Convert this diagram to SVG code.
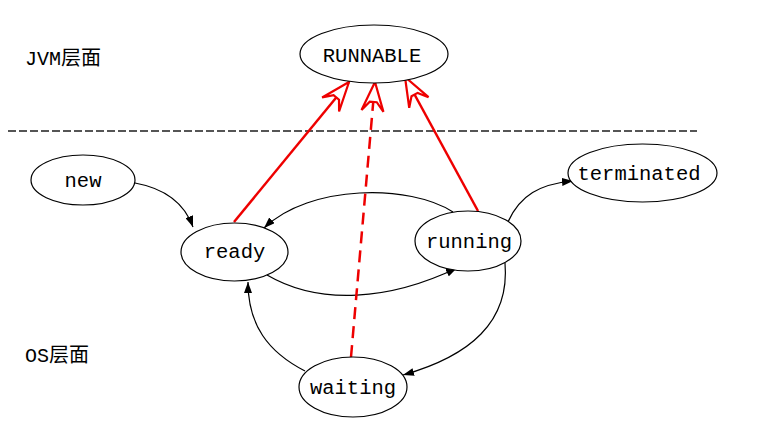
<svg xmlns="http://www.w3.org/2000/svg" width="772" height="432" viewBox="0 0 772 432">
<style>
.node ellipse{fill:#fff;stroke:#000;stroke-width:1.2}
.node text{font-family:"Liberation Mono","Noto Sans CJK SC",monospace;font-size:20.5px;fill:#000;text-anchor:middle}
.lbl{font-family:"Liberation Mono","Noto Sans CJK SC",monospace;font-size:20px;fill:#000}
.edge{fill:none;stroke:#000;stroke-width:1.2;marker-end:url(#ah)}
.red{fill:none;stroke:#e00;stroke-width:2.5;marker-end:url(#rh)}
</style>
<defs>
<marker id="ah" markerUnits="userSpaceOnUse" viewBox="0 0 11 8" refX="11" refY="4" markerWidth="11" markerHeight="8" orient="auto"><path d="M0,0 L11,4 L0,8 Z" fill="#000"/></marker>
<marker id="rh" markerUnits="userSpaceOnUse" viewBox="-31 -13 34 26" refX="0" refY="0" markerWidth="34" markerHeight="26" orient="auto" overflow="visible"><path d="M0,0 L-29,-11 L-20,-3.5 L-20,3.5 L-29,11 Z" fill="#fff" stroke="#e00" stroke-width="2.2" stroke-linejoin="miter"/></marker>
</defs>
<rect width="772" height="432" fill="#fff"/>
<text class="lbl" x="25" y="65">JVM层面</text>
<text class="lbl" x="25" y="362">OS层面</text>
<line x1="8" y1="131" x2="697" y2="131" stroke="#555" stroke-width="2" stroke-dasharray="8,3"/>
<g id="connectors">
<path class="edge" d="M135,183 C168,189 185,205 193,227"/>
<path class="edge" d="M453,212 C410,184 310,184 264,228"/>
<path class="edge" d="M267,275 C320,306 390,300 457,268"/>
<path class="edge" d="M508,222 C520,195 540,184 573,181"/>
<path class="edge" d="M505,263 C510,322 470,356 403,375"/>
<path class="edge" d="M305,371 C268,352 248,325 248,282"/>
<path class="red" d="M234,222 L349,82"/>
<path class="red" d="M351,357 L375,82" stroke-dasharray="12,7"/>
<path class="red" d="M478,211 L405,77"/>
</g>
<g id="RUNNABLE" class="node"><ellipse cx="374" cy="54" rx="74" ry="29"/><text x="372" y="62">RUNNABLE</text></g>
<g id="new" class="node"><ellipse cx="83" cy="180" rx="52" ry="25"/><text x="83" y="187">new</text></g>
<g id="ready" class="node"><ellipse cx="234.5" cy="252" rx="53.5" ry="29"/><text x="234.5" y="258">ready</text></g>
<g id="running" class="node"><ellipse cx="468" cy="241" rx="53" ry="30"/><text x="469" y="248">running</text></g>
<g id="terminated" class="node"><ellipse cx="642.5" cy="173" rx="74.5" ry="29"/><text x="639" y="180">terminated</text></g>
<g id="waiting" class="node"><ellipse cx="353" cy="387" rx="54" ry="30"/><text x="353" y="394">waiting</text></g>
</svg>
